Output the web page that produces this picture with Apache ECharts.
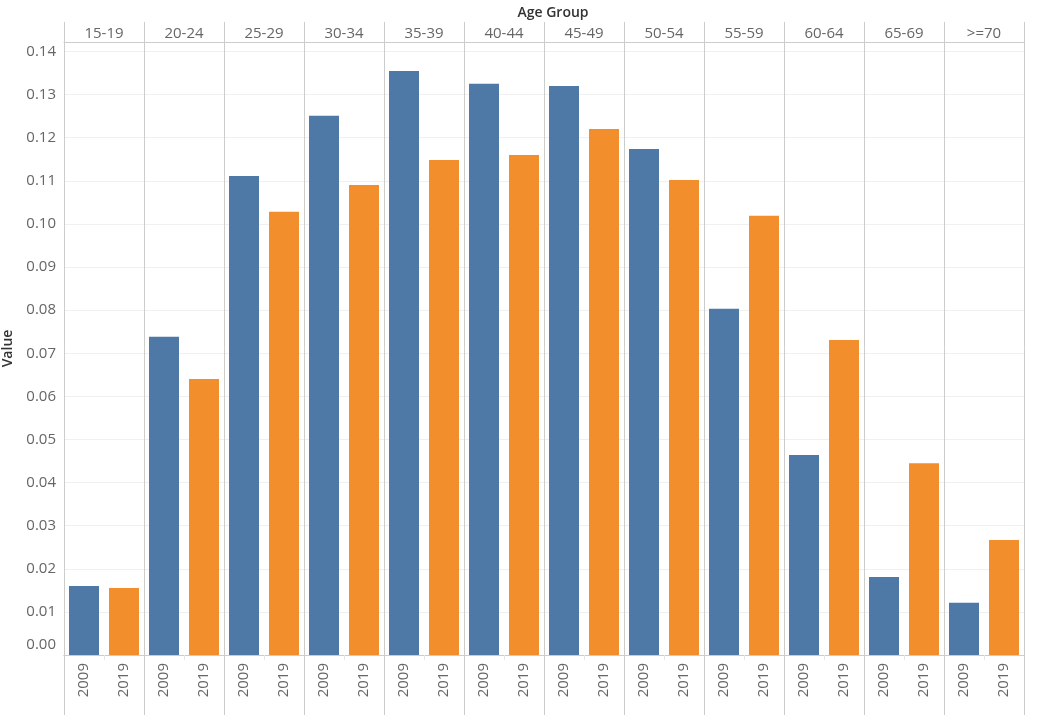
<!DOCTYPE html>
<html><head><meta charset="utf-8">
<script src="https://cdn.jsdelivr.net/npm/echarts@6/dist/echarts.min.js"></script>
<style>html,body{margin:0;padding:0;background:#fff}#c{width:1037px;height:720px}</style>
</head><body><div id="c"></div>
<script>
const ageGroups = ['15-19','20-24','25-29','30-34','35-39','40-44','45-49','50-54','55-59','60-64','65-69','>=70'];
const years = ['2009','2019'];
const values2009 = [0.0160,0.0738,0.1111,0.1251,0.1355,0.1325,0.1320,0.1174,0.0803,0.0464,0.0181,0.0121];
const values2019 = [0.01555,0.0640,0.1028,0.1090,0.1148,0.1160,0.1220,0.1102,0.1019,0.0731,0.0445,0.0267];

const subCats = [];
const s2009 = [], s2019 = [];
ageGroups.forEach((g,i)=>{
  subCats.push(g+'|'+years[0]); subCats.push(g+'|'+years[1]);
  s2009.push(values2009[i]); s2009.push('-');
  s2019.push('-'); s2019.push(values2019[i]);
});
const FONT = 'Open Sans';
const chart = echarts.init(document.getElementById('c'));
chart.setOption({
  animation:false,
  textStyle:{fontFamily:FONT},
  title:{text:'Age Group',left:548,textAlign:'center',top:1,textStyle:{fontSize:14,fontWeight:600,color:'#333',fontFamily:FONT}},
  grid:{left:64,right:13,top:42,bottom:65,containLabel:false,outerBoundsMode:'none'},
  xAxis:[
    {type:'category',data:subCats,position:'bottom',
     axisLine:{show:true,lineStyle:{color:'#ccc'}},
     axisTick:{show:true,length:5,lineStyle:{color:'#e6e6e6'}},
     axisLabel:{rotate:90,margin:8,fontSize:15,color:'#666',fontFamily:FONT,formatter:v=>v.split('|')[1]},
     splitLine:{show:false}},
    {type:'category',data:ageGroups,position:'top',
     axisLine:{show:true,lineStyle:{color:'#ccc'}},
     axisTick:{show:true,length:20,lineStyle:{color:'#ccc'}},
     axisLabel:{margin:1,fontSize:15,color:'#666',fontFamily:FONT},
     splitLine:{show:true,lineStyle:{color:'#ccc',width:1}}},
    {type:'category',data:ageGroups,position:'bottom',
     axisLine:{show:true,lineStyle:{color:'#ccc'}},
     axisTick:{show:true,length:60,lineStyle:{color:'#ccc'}},
     axisLabel:{show:false}}
  ],
  yAxis:{type:'value',min:0,max:0.1422,interval:0.01,
    name:'Value',nameLocation:'middle',nameGap:49,nameRotate:90,
    nameTextStyle:{fontSize:14,fontWeight:600,color:'#333',fontFamily:FONT},
    axisLine:{show:true,lineStyle:{color:'#ccc'}},
    axisTick:{show:false},
    axisLabel:{showMaxLabel:false,fontSize:15,color:'#666',fontFamily:FONT,margin:8,
      formatter:v=> v===0 ? '{z|0.00}' : v.toFixed(2),
      rich:{z:{fontSize:15,color:'#666',fontFamily:FONT,padding:[0,0,20,0]}}},
    splitLine:{show:true,lineStyle:{color:'#f0f0f0'}}},
  series:[
    {name:'2009',type:'bar',xAxisIndex:0,data:s2009,barWidth:30,barGap:'-100%',itemStyle:{color:'#4e79a7'}},
    {name:'2019',type:'bar',xAxisIndex:0,data:s2019,barWidth:30,barGap:'-100%',itemStyle:{color:'#f28e2b'}}
  ]
});
</script></body></html>
